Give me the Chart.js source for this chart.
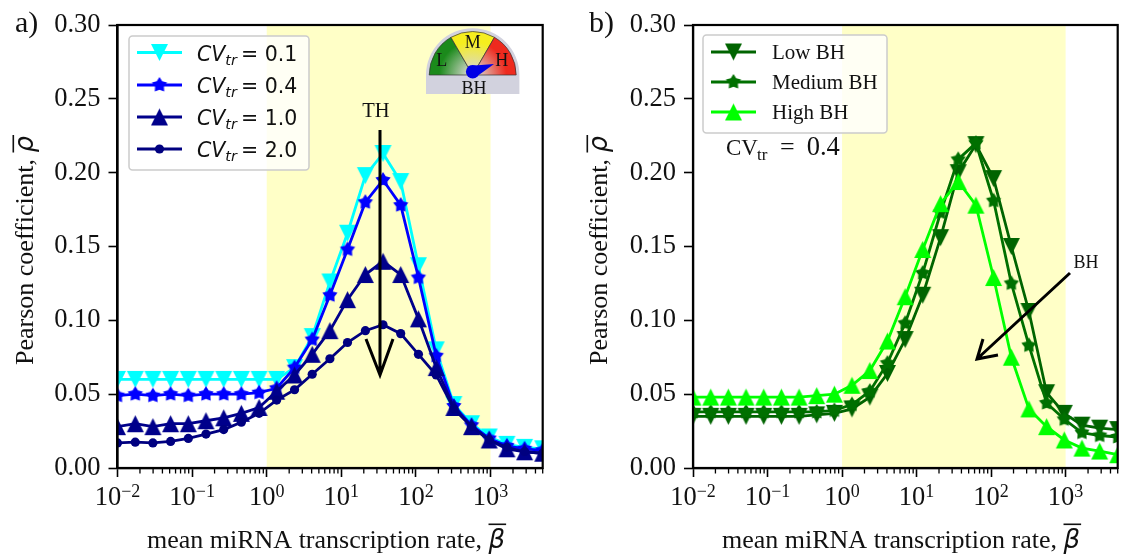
<!DOCTYPE html>
<html>
<head>
<meta charset="utf-8">
<script src="https://cdn.jsdelivr.net/npm/chart.js@4/dist/chart.umd.min.js"></script>
<style>
  html, body { margin: 0; background: #fff; overflow: hidden; }
  canvas { position: absolute; top: 0; }
</style>
</head>
<body>
<canvas id="panelA" width="561" height="554" style="left:0"></canvas>
<canvas id="panelB" width="562" height="554" style="left:561px"></canvas>
<script>
const betaValues = [0.01, 0.0173, 0.0298, 0.0515, 0.0889, 0.1535, 0.265, 0.457, 0.79, 1.36, 2.36, 4.07, 7.03, 12.1, 21, 36.2, 62.5, 108, 187, 322, 556, 960, 1657, 2862, 5000];

const cv01 = [0.060, 0.060, 0.060, 0.060, 0.060, 0.060, 0.060, 0.060, 0.060, 0.060, 0.068, 0.089, 0.126, 0.159, 0.198, 0.213, 0.194, 0.137, 0.080, 0.043, 0.030, 0.021, 0.016, 0.014, 0.013];
const cv04 = [0.049, 0.050, 0.049, 0.050, 0.049, 0.050, 0.050, 0.050, 0.051, 0.054, 0.068, 0.087, 0.117, 0.148, 0.180, 0.195, 0.178, 0.129, 0.076, 0.042, 0.029, 0.020, 0.015, 0.013, 0.012];
const cv10 = [0.028, 0.030, 0.028, 0.030, 0.030, 0.032, 0.034, 0.037, 0.041, 0.052, 0.063, 0.077, 0.093, 0.114, 0.131, 0.140, 0.131, 0.101, 0.068, 0.041, 0.028, 0.019, 0.013, 0.011, 0.010];
const cv20 = [0.017, 0.0175, 0.017, 0.018, 0.020, 0.023, 0.026, 0.031, 0.037, 0.046, 0.053, 0.0635, 0.074, 0.085, 0.093, 0.097, 0.091, 0.077, 0.063, 0.040, 0.028, 0.019, 0.014, 0.011, 0.010];

const lowBH = [0.035, 0.035, 0.035, 0.035, 0.035, 0.035, 0.035, 0.036, 0.037, 0.040, 0.048, 0.064, 0.087, 0.117, 0.156, 0.200, 0.219, 0.196, 0.150, 0.106, 0.051, 0.037, 0.029, 0.027, 0.026];
const mediumBH = [0.038, 0.038, 0.038, 0.038, 0.038, 0.038, 0.038, 0.038, 0.039, 0.043, 0.052, 0.071, 0.098, 0.132, 0.173, 0.209, 0.220, 0.181, 0.125, 0.083, 0.044, 0.033, 0.024, 0.022, 0.021];
const highBH = [0.048, 0.048, 0.048, 0.048, 0.048, 0.048, 0.048, 0.049, 0.050, 0.056, 0.066, 0.086, 0.116, 0.148, 0.179, 0.194, 0.178, 0.129, 0.075, 0.040, 0.028, 0.019, 0.0135, 0.0115, 0.009];

const xTickValues = [0.01, 0.1, 1, 10, 100, 1000];
const xTickExponents = ['−2', '−1', '0', '1', '2', '3'];
const yTickLabels = ['0.00', '0.05', '0.10', '0.15', '0.20', '0.25', '0.30'];
const bandStart = 1, bandEnd = 1000;

const SERIF = '"Liberation Serif"', SANS = '"DejaVu Sans"';

// matplotlib style markers, same width and height
function marker(shape, color, size) {
  const c = document.createElement('canvas');
  c.width = c.height = size + 2;
  const g = c.getContext('2d'), m = size / 2 + 1, r = size / 2;
  g.fillStyle = color;
  g.beginPath();
  if (shape === 'up') {
    g.moveTo(m, m - r); g.lineTo(m + r, m + r); g.lineTo(m - r, m + r);
  } else if (shape === 'down') {
    g.moveTo(m, m + r); g.lineTo(m + r, m - r); g.lineTo(m - r, m - r);
  } else {
    for (let i = 0; i < 10; i++) {
      const a = -Math.PI / 2 + i * Math.PI / 5, q = i % 2 ? r * 0.58 : r;
      g.lineTo(m + q * Math.cos(a), m + q * Math.sin(a));
    }
  }
  g.closePath();
  g.fill();
  return c;
}

function series(label, data, color, shape, size, n) {
  const pt = shape === 'circle' ? 'circle' : marker(shape, color, size);
  return {
    label, data: data.map((y, i) => ({ x: betaValues[i], y })),
    borderColor: color, backgroundColor: color, borderWidth: 2.8,
    pointStyle: pt, pointRadius: shape === 'circle' ? 4.6 : size / 2,
    pointBorderWidth: 0, pointHoverRadius: 4, tension: 0, order: 10 - n
  };
}

function text(g, str, x, y, font, align) {
  g.font = font;
  g.textAlign = align || 'left';
  g.textBaseline = 'alphabetic';
  g.fillStyle = '#111';
  g.fillText(str, x, y);
  return g.measureText(str).width;
}

function drawArrow(g, x0, y0, x1, y1, w1x, w1y, w2x, w2y) {
  g.strokeStyle = '#000';
  g.lineWidth = 3;
  g.beginPath();
  g.moveTo(x0, y0); g.lineTo(x1, y1);
  g.moveTo(w1x, w1y); g.lineTo(x1, y1); g.lineTo(w2x, w2y);
  g.stroke();
}

function legendBox(g, x, y, w, h) {
  g.beginPath();
  g.roundRect(x, y, w, h, 3.5);
  g.fillStyle = 'rgba(255,255,255,0.8)';
  g.fill();
  g.strokeStyle = '#ccc';
  g.lineWidth = 1.5;
  g.stroke();
}

function legendKey(g, ds, x, y) {
  g.strokeStyle = ds.borderColor;
  g.lineWidth = 2.8;
  g.beginPath();
  g.moveTo(x, y); g.lineTo(x + 45, y);
  g.stroke();
  if (ds.pointStyle === 'circle') {
    g.fillStyle = ds.borderColor;
    g.beginPath();
    g.arc(x + 22.5, y, 4.6, 0, Math.PI * 2);
    g.fill();
  } else {
    g.drawImage(ds.pointStyle, x + 22.5 - ds.pointStyle.width / 2, y - ds.pointStyle.height / 2);
  }
}

function drawGauge(g) {
  const cx = 472.7, cy = 75, r = 43.5;
  g.fillStyle = '#d2d2de';
  g.beginPath();
  g.arc(cx, cy, 46.7, Math.PI, 0);
  g.rect(cx - 46.7, cy, 93.4, 19);
  g.fill();
  const sectors = [
    [Math.PI, Math.PI * 4 / 3, '#1b8a1b'],
    [Math.PI * 4 / 3, Math.PI * 5 / 3, '#f6ee1e'],
    [Math.PI * 5 / 3, Math.PI * 2, '#ee2a1e']
  ];
  sectors.forEach(s => {
    const grad = g.createRadialGradient(cx, cy, 4, cx, cy, r);
    grad.addColorStop(0, '#d8d8cf');
    grad.addColorStop(0.75, s[2]);
    g.fillStyle = grad;
    g.beginPath();
    g.moveTo(cx, cy);
    g.arc(cx, cy, r, s[0], s[1]);
    g.closePath();
    g.fill();
    g.strokeStyle = '#333';
    g.lineWidth = 0.7;
    g.stroke();
  });
  g.fillStyle = '#0000e6';
  g.beginPath();
  g.moveTo(468, 66); g.lineTo(494, 64); g.lineTo(476, 77);
  g.fill();
  g.beginPath();
  g.arc(cx, 71.7, 6.8, 0, Math.PI * 2);
  g.fill();
  const f = '18px ' + SERIF;
  text(g, 'L', 441.7, 66, f, 'center');
  text(g, 'M', cx, 48, f, 'center');
  text(g, 'H', 501.7, 66, f, 'center');
  text(g, 'BH', 474, 94, f, 'center');
}

const panelDecor = {
  A(g, chart) {
    const ds = chart.data.datasets, rows = [52.5, 85, 117, 149], vals = ['0.1', '0.4', '1.0', '2.0'];
    legendBox(g, 129, 36, 180, 134);
    rows.forEach((y, i) => {
      legendKey(g, ds[i], 137, y);
      let x = 197;
      x += text(g, 'CV', x, y + 8, 'italic 20.5px ' + SANS);
      x += text(g, 'tr', x, y + 12, 'italic 14.5px ' + SANS) + 4;
      text(g, '= ' + vals[i], x, y + 8, '20.5px ' + SANS);
    });
    drawGauge(g);
    text(g, 'TH', 376, 117, '20.5px ' + SERIF, 'center');
    drawArrow(g, 380, 130, 380, 375, 366, 339, 393, 339);
  },
  B(g, chart) {
    const ds = chart.data.datasets, rows = [52, 82, 112];
    legendBox(g, 142, 35, 184, 98);
    rows.forEach((y, i) => {
      legendKey(g, ds[i], 150, y);
      text(g, ds[i].label, 211, y + 7, '21px ' + SERIF);
    });
    text(g, 'CV', 165, 155, '23px ' + SERIF);
    text(g, 'tr', 196, 160, '17px ' + SERIF);
    text(g, '=', 219, 155, '26px ' + SERIF);
    text(g, '0.4', 245.7, 155, '26.5px ' + SERIF);
    text(g, 'BH', 525, 268, '18px ' + SERIF, 'center');
    drawArrow(g, 509, 273, 416, 359, 422, 339, 437, 355);
  }
};

function makePanel(id, key, datasets, yWidth, rightPad, panelLabel, labelX, yTitleX, xTitleX) {
  const overlay = {
    id: 'overlay' + key,
    beforeDatasetsDraw(chart) {
      const g = chart.ctx, a = chart.chartArea, xs = chart.scales.x;
      const x0 = xs.getPixelForValue(bandStart), x1 = xs.getPixelForValue(bandEnd);
      g.save();
      g.fillStyle = 'rgba(255,255,0,0.22)';
      g.fillRect(x0, a.top, x1 - x0, a.bottom - a.top);
      g.restore();
    },
    afterDraw(chart) {
      const g = chart.ctx, a = chart.chartArea, xs = chart.scales.x;
      g.save();
      // minor log ticks and the frame
      g.strokeStyle = '#000';
      g.lineWidth = 1.3;
      g.beginPath();
      for (let d = -2; d <= 3; d++) {
        for (let m = 2; m <= 9; m++) {
          const v = m * Math.pow(10, d);
          if (v > 5000) continue;
          const px = xs.getPixelForValue(v);
          g.moveTo(px, a.bottom); g.lineTo(px, a.bottom + 5.5);
        }
      }
      g.stroke();
      g.lineWidth = 2.2;
      g.strokeRect(a.left, a.top, a.right - a.left, a.bottom - a.top);

      panelDecor[key](g, chart);

      text(g, panelLabel, labelX, 32, '30px ' + SERIF);

      // x tick labels: 10 with a real raised exponent
      xTickValues.forEach((v, i) => {
        const px = xs.getPixelForValue(v), exp = xTickExponents[i];
        g.font = '18px ' + SERIF;
        const ew = g.measureText(exp).width, start = px - (26.5 + ew) / 2;
        text(g, '10', start, 505, '26.5px ' + SERIF);
        text(g, exp, start + 26.5, 497, '18px ' + SERIF);
      });

      // x axis title with the math beta
      let x = xTitleX;
      x += text(g, 'mean miRNA transcription rate, ', x, 548, '26px ' + SERIF);
      const bw = text(g, 'β', x, 548, 'italic 26px ' + SANS);
      g.fillStyle = '#111';
      g.fillRect(x, 523.5, bw + 1, 1.6);

      // y axis title, rotated
      g.translate(yTitleX, 365);
      g.rotate(-Math.PI / 2);
      let y = 0;
      y += text(g, 'Pearson coefficient, ', y, 0, '26px ' + SERIF);
      const rw = text(g, 'ρ', y, 0, 'italic 26px ' + SANS);
      g.fillStyle = '#111';
      g.fillRect(y, -20.5, rw + 1, 1.6);
      g.restore();
    }
  };
  return new Chart(document.getElementById(id), {
    type: 'line',
    data: { datasets },
    plugins: [overlay],
    options: {
      responsive: false,
      animation: false,
      layout: { autoPadding: false, padding: { top: 25, right: rightPad, left: 0, bottom: 0 } },
      plugins: { legend: { display: false }, tooltip: { enabled: false } },
      scales: {
        x: {
          type: 'logarithmic', min: 0.01, max: 5000,
          afterBuildTicks: s => { s.ticks = xTickValues.map(v => ({ value: v, major: true })); },
          afterFit: s => { s.height = 86; },
          ticks: { display: false },
          grid: { drawOnChartArea: false, tickLength: 9, tickWidth: 1.6, tickColor: '#000' },
          border: { color: '#000', width: 2.2 }
        },
        y: {
          min: 0, max: 0.3,
          afterFit: s => { s.width = yWidth; },
          ticks: {
            stepSize: 0.05, padding: 8, color: '#111',
            font: { family: SERIF, size: 26.5 },
            callback: (v, i) => yTickLabels[i]
          },
          grid: { drawOnChartArea: false, tickLength: 9, tickWidth: 1.6, tickColor: '#000' },
          border: { color: '#000', width: 2.2 }
        }
      }
    }
  });
}

makePanel('panelA', 'A', [
  series('CV_tr = 0.1', cv01, '#00ffff', 'down', 17, 0),
  series('CV_tr = 0.4', cv04, '#0000ff', 'star', 16, 1),
  series('CV_tr = 1.0', cv10, '#00008b', 'up', 17, 2),
  series('CV_tr = 2.0', cv20, '#000080', 'circle', 9, 3)
], 117.5, 18.3, 'a)', 15, 33, 147);

makePanel('panelB', 'B', [
  series('Low BH', lowBH, '#006400', 'down', 17, 0),
  series('Medium BH', mediumBH, '#007000', 'star', 16, 1),
  series('High BH', highBH, '#00ff00', 'up', 17, 2)
], 132, 5.3, 'b)', 28, 46, 161);
</script>
</body>
</html>
